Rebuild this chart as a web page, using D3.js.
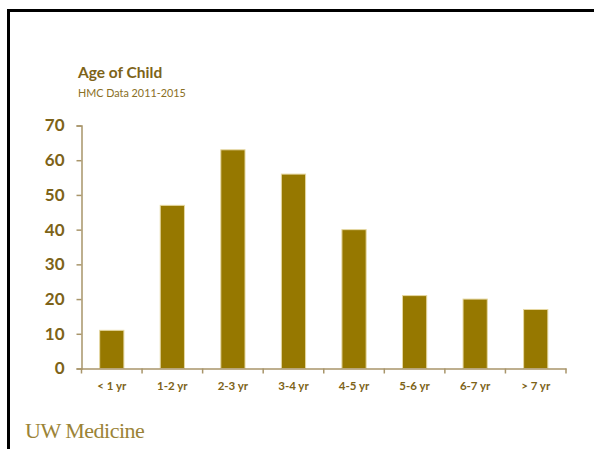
<!DOCTYPE html>
<html>
  <head>
    <title>Age of Child</title>
    <script src="https://d3js.org/d3.v7.min.js"></script>
    <style>
      body { margin: 0; background: #fff; }
      .axis .domain { stroke: #a8956a; stroke-width: 1.5px; }
      .axis .tick line { stroke: #a8956a; stroke-width: 1.5px; }
      .axis--y .tick text {
        font-family: Lato, "Open Sans", sans-serif;
        font-size: 17px;
        font-weight: bold;
        fill: #7d6318;
      }
      .axis--x .tick text {
        font-family: Lato, "Open Sans", sans-serif;
        font-size: 11.5px;
        font-weight: bold;
        fill: #7d6318;
      }
      .title {
        font-family: Lato, "Open Sans", sans-serif;
        font-size: 15.5px;
        font-weight: bold;
        fill: #7d6318;
      }
      .subtitle {
        font-family: Lato, "Open Sans", sans-serif;
        font-size: 10.8px;
        fill: #8a6f25;
      }
      .brand {
        font-family: "Liberation Serif", serif;
        font-size: 22px;
        fill: #9b8337;
        letter-spacing: -0.5px;
      }
    </style>
  </head>
  <body>
    <svg width="594" height="449"></svg>
    <script>
      const categories = ["< 1 yr", "1-2 yr", "2-3 yr", "3-4 yr", "4-5 yr", "5-6 yr", "6-7 yr", "> 7 yr"];
      const counts = [11, 47, 63, 56, 40, 21, 20, 17];
      const yTicks = [0, 10, 20, 30, 40, 50, 60, 70];

      const svg = d3.select("svg");
      const margin = {top: 125.5, left: 81.5, right: 28, bottom: 80.5};
      const width = 594, height = 449;
      const innerWidth = width - margin.left - margin.right;
      const innerHeight = height - margin.top - margin.bottom;

      // slide frame, running off the right and bottom edges
      svg.append("path")
        .attr("d", `M8.5,${height} V10.5 H${width}`)
        .attr("fill", "none")
        .attr("stroke", "#000")
        .attr("stroke-width", 3);

      svg.append("text")
        .attr("class", "title")
        .attr("x", 78)
        .attr("y", 78)
        .text("Age of Child");

      svg.append("text")
        .attr("class", "subtitle")
        .attr("x", 78)
        .attr("y", 97)
        .text("HMC Data 2011-2015");

      svg.append("text")
        .attr("class", "brand")
        .attr("x", 25)
        .attr("y", 438)
        .text("UW Medicine");

      const g = svg.append("g")
        .attr("transform", `translate(${margin.left}, ${margin.top})`);

      const xScale = d3.scaleBand()
        .domain(categories)
        .range([0, innerWidth])
        .paddingInner(0.6)
        .paddingOuter(0.3);

      const yScale = d3.scaleLinear()
        .domain([0, 70])
        .range([innerHeight, 0]);

      g.selectAll(".bar")
        .data(counts)
        .enter().append("rect")
          .attr("class", "bar")
          .attr("x", (d, i) => xScale(categories[i]))
          .attr("y", d => yScale(d))
          .attr("width", xScale.bandwidth())
          .attr("height", d => innerHeight - yScale(d))
          .attr("fill", "#967800")
          .attr("stroke", "#e6d8a2")
          .attr("stroke-width", 1);

      const yAxis = d3.axisLeft(yScale)
        .tickValues(yTicks)
        .tickSizeOuter(0)
        .tickSize(5)
        .tickPadding(12);

      g.append("g")
        .attr("class", "axis axis--y")
        .call(yAxis);

      // labels centred on bands, tick marks on band boundaries
      const xAxis = d3.axisBottom(xScale)
        .tickSize(0)
        .tickPadding(13);

      const xg = g.append("g")
        .attr("class", "axis axis--x")
        .attr("transform", `translate(0, ${innerHeight})`)
        .call(xAxis);

      xg.selectAll(".bound")
        .data(d3.range(categories.length + 1))
        .enter().append("line")
          .attr("class", "bound")
          .attr("x1", i => i * innerWidth / categories.length)
          .attr("x2", i => i * innerWidth / categories.length)
          .attr("y1", 0)
          .attr("y2", 5)
          .attr("stroke", "#a8956a")
          .attr("stroke-width", 1.5);
    </script>
  </body>
</html>
